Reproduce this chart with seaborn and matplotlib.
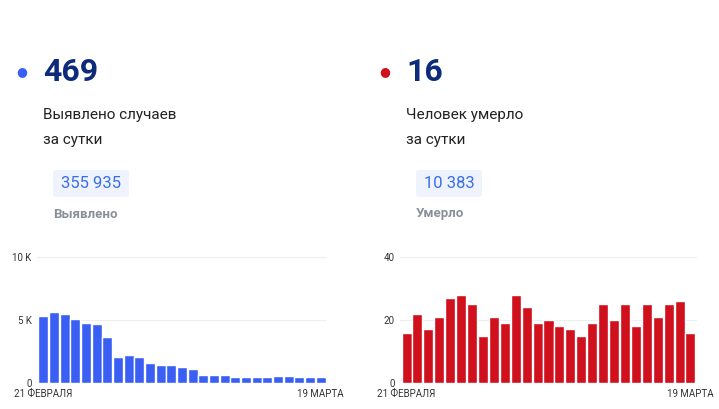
import seaborn as sns
import matplotlib.pyplot as plt
import matplotlib.patches as mpatches

cases = [5300, 5600, 5450, 5100, 4750, 4650, 3650, 2100, 2200, 2100, 1600, 1400, 1400,
         1300, 1150, 600, 650, 600, 500, 500, 500, 500, 550, 550, 500, 500, 469]
deaths = [16, 22, 17, 21, 27, 28, 25, 15, 21, 19, 28, 24, 19, 20, 18, 17, 15, 19, 25,
          20, 25, 18, 25, 21, 25, 26, 16]
days = list(range(len(cases)))

sns.set_style("white")
plt.rcParams['font.family'] = ['Roboto', 'DejaVu Sans']

fig = plt.figure(figsize=(7.19, 4.09), dpi=100)

def px(x, y):
    return x / 719, 1 - y / 409

panels = [
    dict(x=22, color="#3a5ff5", num="469", lines=["Выявлено случаев", "за сутки"],
         total="355 935", label="Выявлено", data=cases, ylim=10000,
         ticks=[0, 5000, 10000], tlabels=["0", "5 K", "10 K"], ax=[37, 327]),
    dict(x=385, color="#d0101c", num="16", lines=["Человек умерло", "за сутки"],
         total="10 383", label="Умерло", data=deaths, ylim=40,
         ticks=[0, 20, 40], tlabels=["0", "20", "40"], ax=[400, 697]),
]

for p in panels:
    x0 = p["x"]
    fig.text(*px(x0, 72), "●", color=p["color"], fontsize=9, va="center", ha="center")
    fig.text(*px(x0 + 21, 72), p["num"], color="#0d2b7a", fontsize=23, fontweight="bold", va="center")
    fig.text(*px(x0 + 21, 115), p["lines"][0], color="#222222", fontsize=11, va="center")
    fig.text(*px(x0 + 21, 140), p["lines"][1], color="#222222", fontsize=11, va="center")
    w = 76 if p["num"] == "469" else 66
    fig.patches.append(mpatches.FancyBboxPatch(px(x0 + 31, 197), w / 719, 27 / 409,
                       boxstyle="round,pad=0,rounding_size=0.005", transform=fig.transFigure,
                       facecolor="#eef3fd", edgecolor="none"))
    fig.text(*px(x0 + 31 + w / 2, 183), p["total"], color="#3a6ee8", fontsize=12, va="center", ha="center")
    fig.text(*px(x0 + 31, 214), p["label"], color="#8a8f99", fontsize=9.5, fontweight="bold", va="center")

    l, r = p["ax"]
    ax = fig.add_axes([l / 719, 26 / 409, (r - l) / 719, 126 / 409])
    sns.barplot(x=days, y=p["data"], color=p["color"], saturation=1, width=0.92, ax=ax)
    ax.set_ylim(0, p["ylim"])
    ax.set_xlim(-0.6, len(days) - 0.4)
    ax.set_yticks(p["ticks"])
    ax.set_yticklabels(p["tlabels"], fontsize=7, color="#333333")
    ax.set_xticks([0, len(days) - 1])
    ax.set_xticklabels(["21 ФЕВРАЛЯ", "19 МАРТА"], fontsize=7, color="#333333")
    ax.tick_params(length=0, pad=4)
    ax.grid(axis="y", color="#eeeeee", linewidth=0.8)
    ax.set_axisbelow(True)
    for s in ax.spines.values():
        s.set_visible(False)

fig.savefig("out.png", dpi=100)
